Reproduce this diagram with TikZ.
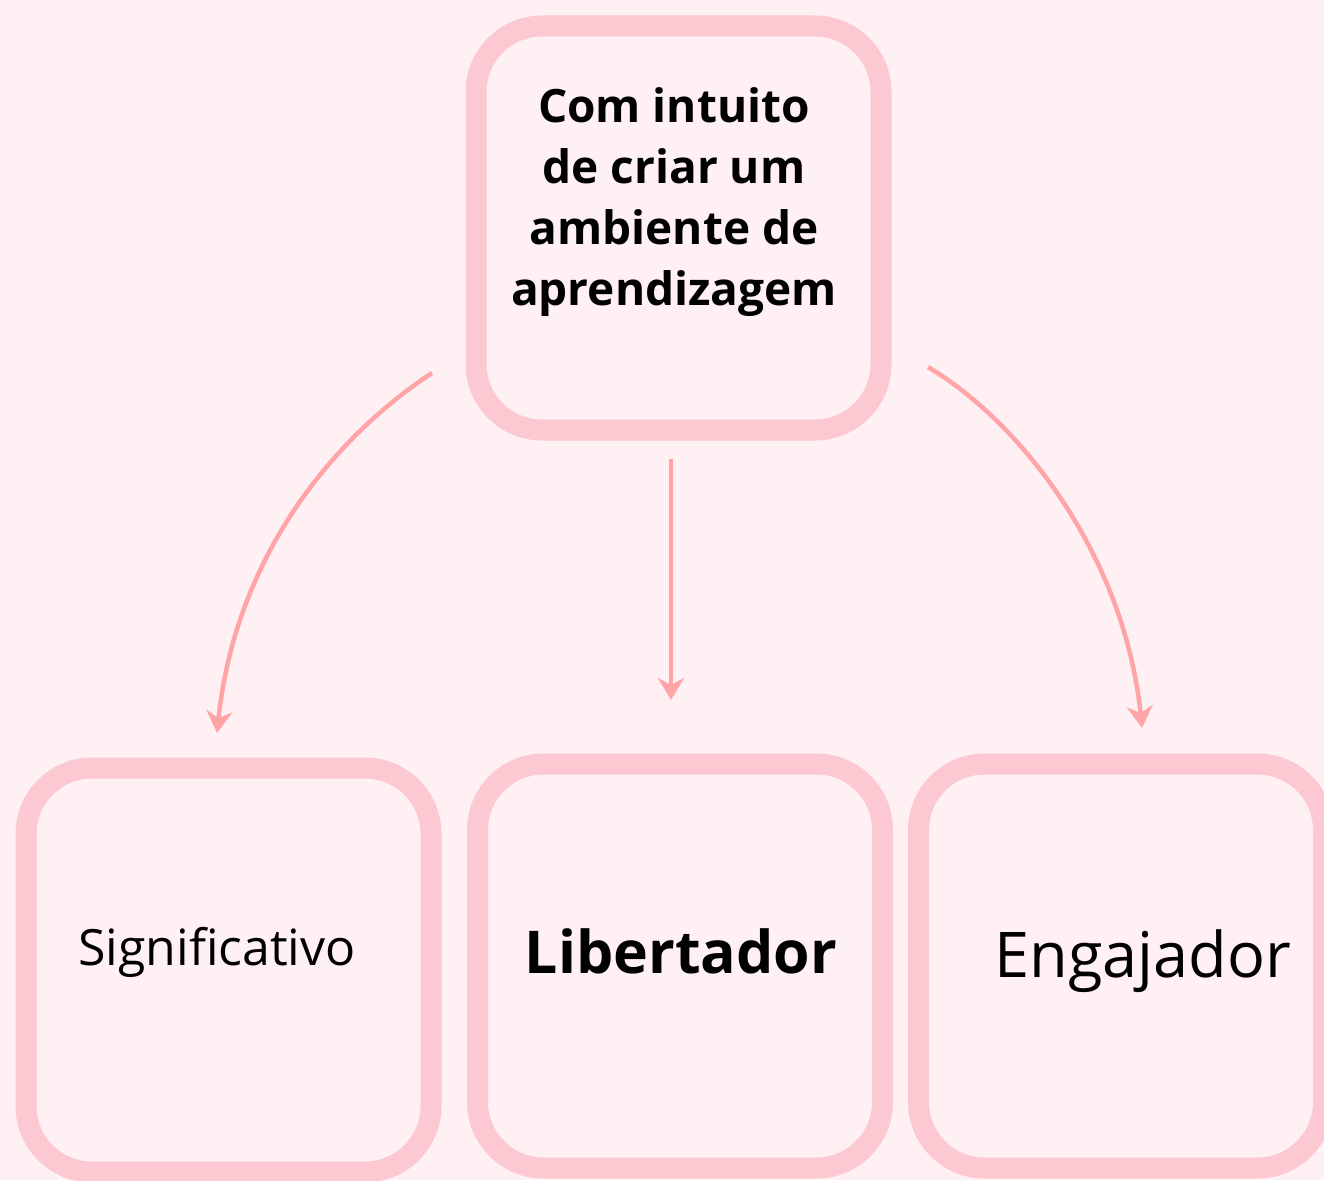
\documentclass[tikz,border=0pt]{standalone}
\usepackage{fontspec}
\setmainfont{Open Sans}
\usetikzlibrary{arrows.meta}
\definecolor{pagebg}{HTML}{FFF0F3}
\definecolor{framepink}{HTML}{FCC8D1}
\definecolor{arrowpink}{HTML}{FFA5A8}
\tikzset{
 card/.style = {
    rectangle, draw=framepink, fill=pagebg,
    line width=21pt,
    rounded corners=66pt,
    minimum width=405pt,
    minimum height=404pt,
    inner sep=0pt},
 link/.style = {
    draw=arrowpink, line width=4.5pt,
    -{Stealth[length=22pt, width=26pt, inset=7pt]}},
 card text/.style = {
    anchor=base, text=black, inner sep=0pt},
}
\begin{document}
\begin{tikzpicture}[x=1pt, y=-1pt]
    \useasboundingbox (0,0) rectangle (1324,1180);
    \fill[pagebg] (0,0) rectangle (1324,1180);

    % Place nodes
    \node [card] (topbox) at (678.5,228) {};
    \node [card] (sigbox) at (228.5,970) {};
    \node [card] (libbox) at (680,966)   {};
    \node [card] (engbox) at (1121,966)  {};

    \node [card text, align=center, font=\bfseries\fontsize{46}{61}\selectfont] (goal) at (674,305)
        {Com intuito\\de criar um\\ambiente de\\aprendizagem};
    \node [card text, font=\fontsize{50}{60}\selectfont] (sig) at (217,965) {Significativo};
    \node [card text, font=\bfseries\fontsize{59}{70}\selectfont] (lib) at (681,973) {Libertador};
    \node [card text, font=\fontsize{63}{75}\selectfont] (eng) at (1143,977) {Engajador};

    % Arrow ends
    \coordinate (sigstart) at (432,373);
    \coordinate (sigend)   at (217,733);
    \coordinate (libstart) at (671,459);
    \coordinate (libend)   at (671,700);
    \coordinate (engstart) at (928,367);
    \coordinate (engend)   at (1142,728);

    \draw[link] (sigstart) .. controls (330,440) and (235,560) .. (sigend);
    \draw[link] (libstart) -- (libend);
    \draw[link] (engstart) .. controls (1025,425) and (1125,560) .. (engend);
\end{tikzpicture}
\end{document}
